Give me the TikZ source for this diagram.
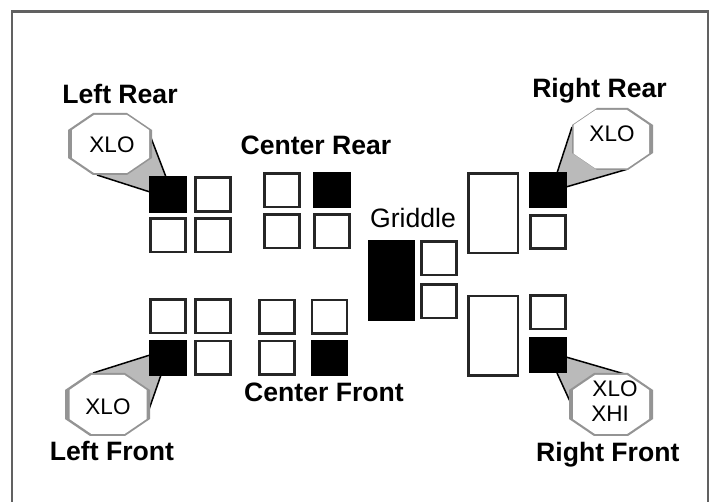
\documentclass[tikz,border=0pt]{standalone}
\usepackage{fontspec}
\setmainfont{Liberation Sans}
\newcommand{\octo}[6]{% xmin xmax ymin ymax colour scale-of-bevel
  \fill[#5] ({#1+25*#6},#3) -- ({#2-25*#6},#3) -- (#2,{#3+17*#6}) -- (#2,{#4-17*#6}) -- ({#2-25*#6},#4) -- ({#1+25*#6},#4) -- (#1,{#4-17*#6}) -- (#1,{#3+17*#6}) -- cycle;}
\tikzset{
  x=1pt,y=-1pt,
  frameline/.style={draw=black!62,line width=2.4pt},
  burner/.style={draw=black!85,fill=white,line width=2.6pt,minimum width=35pt,minimum height=33.5pt,inner sep=0pt,outer sep=0pt},
  hot/.style={burner,fill=black,draw=black},
  tall/.style={burner,minimum width=49.5pt,minimum height=79.5pt},
  griddlehot/.style={hot,minimum width=45pt,minimum height=78pt},
  wedge/.style={fill=black!27},
  wedgeline/.style={draw=black,line width=1.5pt},
  title/.style={font=\fontsize{26.6}{26.6}\bfseries\selectfont,anchor=base,inner sep=0pt},
  plain/.style={font=\fontsize{26.6}{26.6}\selectfont,anchor=base,inner sep=0pt},
  setting/.style={font=\fontsize{22.5}{22.5}\selectfont,anchor=base,inner sep=0pt},
}
\begin{document}
\begin{tikzpicture}
\useasboundingbox (0,0) rectangle (713,502);
\fill[white] (0,0) rectangle (713,502);
\coordinate (fa) at (12,502);
\coordinate (fb) at (12,11.5);
\coordinate (fc) at (708,11.5);
\coordinate (fd) at (708,502);
\draw[frameline] (fa) -- (fb) -- (fc) -- (fd);

% callout wedges
\coordinate (lr1) at (148,130); \coordinate (lr2) at (166,177);
\coordinate (lr3) at (97,175);  \coordinate (lr4) at (150,192);
\fill[wedge] (lr1) -- (lr2) -- (lr4) -- (lr3) -- cycle;
\draw[wedgeline] (lr1) -- (lr2) (lr3) -- (lr4);
\octo{68}{152}{113}{175}{black!42}{1}
\octo{72}{149}{115}{173}{white}{0.88}

\coordinate (rr1) at (572,127); \coordinate (rr2) at (557,173);
\coordinate (rr3) at (628,169); \coordinate (rr4) at (566,187);
\fill[wedge] (rr1) -- (rr2) -- (rr4) -- (rr3) -- cycle;
\draw[wedgeline] (rr1) -- (rr2) (rr3) -- (rr4);
\octo{572}{653}{108}{170}{black!42}{1}
\octo{573.5}{649}{110}{168.5}{white}{0.88}

\coordinate (rf1) at (573,408); \coordinate (rf2) at (557,373);
\coordinate (rf3) at (628,375); \coordinate (rf4) at (566,357);
\fill[wedge] (rf1) -- (rf2) -- (rf4) -- (rf3) -- cycle;
\draw[wedgeline] (rf1) -- (rf2) (rf3) -- (rf4);
\octo{569}{653}{373}{436}{black!42}{1}
\octo{573}{649}{375}{434}{white}{0.88}

\coordinate (lf1) at (146,418); \coordinate (lf2) at (161,375);
\coordinate (lf3) at (93,373);  \coordinate (lf4) at (150,355);
\fill[wedge] (lf1) -- (lf2) -- (lf4) -- (lf3) -- cycle;
\draw[wedgeline] (lf1) -- (lf2) (lf3) -- (lf4);
\octo{65}{150}{373}{436}{black!42}{1}
\octo{69.5}{146.5}{375}{434}{white}{0.88}

% left rear
\node[hot] (lrhot) at (168,194.5) {};
\node[burner] (lrb) at (212.8,194.5) {};
\node[burner] (lrc) at (168,235.3) {};
\node[burner] (lrd) at (212.8,235.3) {};
% left front
\node[burner] (lfa) at (168,316.3) {};
\node[burner] (lfb) at (212.8,316.3) {};
\node[hot] (lfhot) at (168,357.7) {};
\node[burner] (lfd) at (212.8,357.7) {};
% center rear
\node[burner] (cra) at (282.2,190.3) {};
\node[hot] (crhot) at (332,190.3) {};
\node[burner] (crc) at (282.2,231.2) {};
\node[burner] (crd) at (332,231.2) {};
% center front
\node[burner] (cfa) at (277.2,316.7) {};
\node[burner] (cfb) at (329.5,316.7) {};
\node[burner] (cfc) at (277.2,357.7) {};
\node[hot] (cfhot) at (329.5,357.7) {};
% griddle
\node[griddlehot] (ghot) at (391.5,280.3) {};
\node[burner] (ga) at (438.7,258.3) {};
\node[burner] (gb) at (438.7,301.3) {};
% right
\node[tall] (rra) at (493.3,213.3) {};
\node[tall] (rfa) at (493.3,335.7) {};
\node[hot] (rrhot) at (547.8,190.3) {};
\node[burner] (rrb) at (547.8,232) {};
\node[burner] (rfb) at (547.8,312.3) {};
\node[hot] (rfhot) at (547.8,355.2) {};

% labels
\node[title] (tlr) at (120,104) {Left Rear};
\node[title] (tcr) at (316,155) {Center Rear};
\node[title] (trr) at (599.5,98) {Right Rear};
\node[title] (tlf) at (112,461) {Left Front};
\node[title] (tcf) at (324,402) {Center Front};
\node[title] (trf) at (607.8,462) {Right Front};
\node[plain] (tg) at (413,228) {Griddle};
\node[setting] (slr) at (112,153) {XLO};
\node[setting] (srr) at (612,142) {XLO};
\node[setting] (srf) at (615,397) {XLO};
\node[setting] (srg) at (610,422) {XHI};
\node[setting] (slf) at (108,415) {XLO};
\end{tikzpicture}
\end{document}
